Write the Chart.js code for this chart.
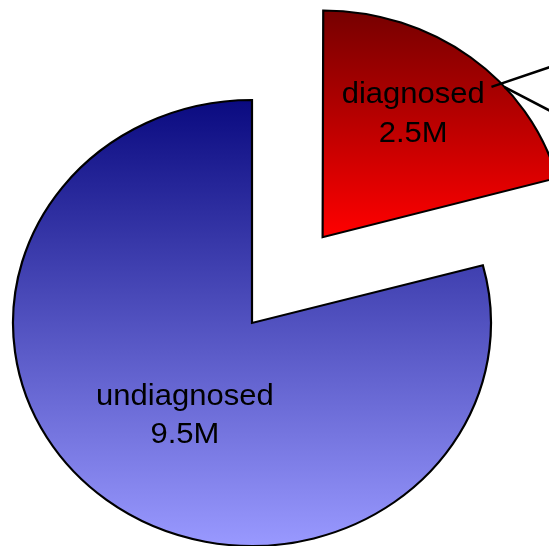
<!DOCTYPE html>
<html>
<head>
<meta charset="utf-8">
<script src="https://cdn.jsdelivr.net/npm/chart.js"></script>
<style>
    html, body { margin: 0; padding: 0; background: #fff; overflow: hidden; }
    #wrap { position: relative; width: 549px; height: 546px; }
</style>
</head>
<body>
<div id="wrap"><canvas id="pie"></canvas></div>
<script>
// ===========================
// DATA
// ===========================
const categories = ['diagnosed', 'undiagnosed'];
const values = [2.5, 9.5];               // millions of people
const valueLabels = ['2.5M', '9.5M'];

// ===========================
// LOOK
// ===========================
const topColors = ['#780000', '#0a0a80'];
const bottomColors = ['#ff0000', '#9999ff'];
const RADIUS = 239;
const SQUASH = 0.933;      // the picture's pie is a little flattened
const EXPLODE = [464, 0];  // chart.js divides arc offset by 4
const LABEL_DIST = [0.66, 0.494];   // share of the radius
const LABEL_SWEEP = [0.453, 0.49];  // share of the slice's angle
const FONT = '31px "Liberation Sans", Arial, sans-serif';

// two leader lines leaving the red slice (their labels are off the picture)
const leaders = [
    { angle: 46.5, reach: 0.96, dx: 57, dy: -19.3 },
    { angle: 48.7, reach: 1.0, dx: 42, dy: 22 }
];

// how far chart.js actually moves an exploded arc
function arcShift(offset, circ) {
    const o = (offset || 0) / 4;
    return o * (2 - Math.sin(Math.min(Math.PI, circ)));
}

function sliceGradient(c) {
    const chart = c.chart;
    const area = chart.chartArea;
    const i = c.dataIndex;
    if (!area || i === undefined) return topColors[0];
    const cy = (area.top + area.bottom) / 2;
    // red slice sits in the top half of its circle only
    const y1 = i === 0 ? cy : cy + RADIUS;
    const g = chart.ctx.createLinearGradient(0, cy - RADIUS, 0, y1);
    g.addColorStop(0, topColors[i]);
    g.addColorStop(1, bottomColors[i]);
    return g;
}

const squashPlugin = {
    id: 'squash',
    beforeDatasetsDraw(chart) {
        const arc = chart.getDatasetMeta(0).data[0];
        const ctx = chart.ctx;
        ctx.save();
        ctx.translate(arc.x, arc.y);
        ctx.scale(1, SQUASH);
        ctx.translate(-arc.x, -arc.y);
    },
    afterDatasetsDraw(chart) {
        const ctx = chart.ctx;
        const arcs = chart.getDatasetMeta(0).data;

        // slice labels, in the same squashed space as the pie
        ctx.font = FONT;
        ctx.fillStyle = '#000';
        ctx.textAlign = 'center';
        ctx.textBaseline = 'alphabetic';
        arcs.forEach((arc, i) => {
            const mid = (arc.startAngle + arc.endAngle) / 2;
            const s = arcShift(arc.options.offset, arc.circumference);
            const cx = arc.x + Math.cos(mid) * s;
            const cy = arc.y + Math.sin(mid) * s;
            const a = arc.startAngle + (arc.endAngle - arc.startAngle) * LABEL_SWEEP[i];
            const d = arc.outerRadius * LABEL_DIST[i];
            const lx = cx + Math.cos(a) * d;
            const ly = cy + Math.sin(a) * d;
            ctx.fillText(categories[i], lx, ly - 9 / SQUASH);
            ctx.fillText(valueLabels[i], lx, ly + 29.5 / SQUASH);
        });
        ctx.restore();

        // leader lines, back in screen space
        const red = arcs[0];
        const mid = (red.startAngle + red.endAngle) / 2;
        const s = arcShift(red.options.offset, red.circumference);
        const rcx = red.x + Math.cos(mid) * s;
        const rcy = red.y + Math.sin(mid) * s;
        ctx.save();
        ctx.strokeStyle = '#000';
        ctx.lineWidth = 2.6;
        leaders.forEach(l => {
            const a = -Math.PI / 2 + l.angle * Math.PI / 180;
            const x0 = rcx + Math.cos(a) * red.outerRadius * l.reach;
            const y0 = red.y + (rcy + Math.sin(a) * red.outerRadius * l.reach - red.y) * SQUASH;
            ctx.beginPath();
            ctx.moveTo(x0, y0);
            ctx.lineTo(x0 + l.dx * 2, y0 + l.dy * 2);
            ctx.stroke();
        });
        ctx.restore();
    }
};

new Chart(document.getElementById('pie'), {
    type: 'pie',
    data: {
        labels: categories,
        datasets: [{
            data: values,
            backgroundColor: sliceGradient,
            borderColor: '#000',
            borderWidth: 2.2,
            borderJoinStyle: 'miter',
            offset: EXPLODE,
            radius: RADIUS
        }]
    },
    options: {
        responsive: true,
        maintainAspectRatio: false,
        animation: false,
        cutout: '0%',   // a plain 0 turns into NaN once the offset eats the area
        layout: { padding: { left: 0, right: 45, top: 100, bottom: 0 } },
        plugins: {
            legend: { display: false },
            tooltip: { enabled: false }
        }
    },
    plugins: [squashPlugin]
});
</script>
</body>
</html>
